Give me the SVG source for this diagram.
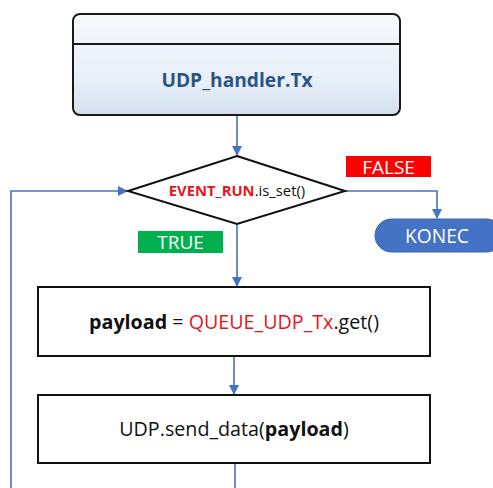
<svg xmlns="http://www.w3.org/2000/svg" width="493" height="488" viewBox="0 0 493 488">
  <defs>
    <linearGradient id="hdrFill" x1="0" y1="0" x2="0" y2="1">
      <stop offset="0" stop-color="#f7f9fd"/>
      <stop offset="0.7" stop-color="#e6eef8"/>
      <stop offset="1" stop-color="#d3dfef"/>
    </linearGradient>
    <marker id="arr" viewBox="0 0 10 10" refX="9" refY="5" markerWidth="10" markerHeight="10" markerUnits="userSpaceOnUse" orient="auto">
      <path d="M0,0 L10,5 L0,10 z" fill="#4472c4"/>
    </marker>
  </defs>
  <style>
    text { font-family: "Open Sans", "Liberation Sans", sans-serif; }
    .conn { fill: none; stroke: #4472c4; stroke-width: 1.6; }
    .box { fill: #ffffff; stroke: #111111; stroke-width: 2; }
    .lbl { font-size: 19.7px; fill: #111111; text-anchor: middle; }
    .tag { font-size: 19px; fill: #ffffff; text-anchor: middle; }
    .b { font-weight: bold; }
    .red { fill: #e8141c; }
  </style>
  <rect width="493" height="488" fill="#ffffff"/>

  <g id="connectors">
    <line class="conn" x1="237" y1="115" x2="237" y2="155" marker-end="url(#arr)"/>
    <polyline class="conn" points="345,191 437,191 437,218" marker-end="url(#arr)"/>
    <line class="conn" x1="237" y1="224" x2="237" y2="286" marker-end="url(#arr)"/>
    <line class="conn" x1="234" y1="356" x2="234" y2="394" marker-end="url(#arr)"/>
    <line class="conn" x1="235" y1="463" x2="235" y2="488"/>
    <polyline class="conn" points="11,488 11,191 127,191" marker-end="url(#arr)"/>
  </g>

  <g id="handler">
    <rect x="73" y="14" width="327" height="101" rx="7" fill="url(#hdrFill)" stroke="#1a1a1a" stroke-width="2"/>
    <line x1="73" y1="44" x2="400" y2="44" stroke="#1a1a1a" stroke-width="2"/>
    <text x="237" y="87" font-size="19.2" font-weight="bold" fill="#2b5583" text-anchor="middle">UDP_handler.Tx</text>
  </g>

  <g id="decision">
    <polygon points="237,156 345,191 237,224 128,191" fill="#ffffff" stroke="#111111" stroke-width="2"/>
    <text x="237" y="196" font-size="14.8" fill="#111111" text-anchor="middle"><tspan class="b red">EVENT_RUN</tspan>.is_set()</text>
  </g>

  <g id="label-false">
    <rect x="346" y="156" width="85" height="21" fill="#ff0000"/>
    <text class="tag" x="388.5" y="174" font-size="19">FALSE</text>
  </g>

  <g id="label-true">
    <rect x="138" y="231" width="85" height="22" fill="#00b050"/>
    <text class="tag" x="180.5" y="249">TRUE</text>
  </g>

  <g id="konec">
    <rect x="375" y="219" width="128" height="33" rx="16.5" fill="#4472c4" stroke="#3a64ae" stroke-width="1"/>
    <text x="437" y="243" font-size="19.2" fill="#ffffff" text-anchor="middle">KONEC</text>
  </g>

  <g id="queue-get">
    <rect class="box" x="38" y="287" width="392" height="69"/>
    <text class="lbl" x="234" y="329"><tspan class="b">payload</tspan> = <tspan class="red">QUEUE_UDP_Tx</tspan>.get()</text>
  </g>

  <g id="send-data">
    <rect class="box" x="38" y="395" width="392" height="68"/>
    <text class="lbl" x="234" y="436">UDP.send_data(<tspan class="b">payload</tspan>)</text>
  </g>
</svg>
